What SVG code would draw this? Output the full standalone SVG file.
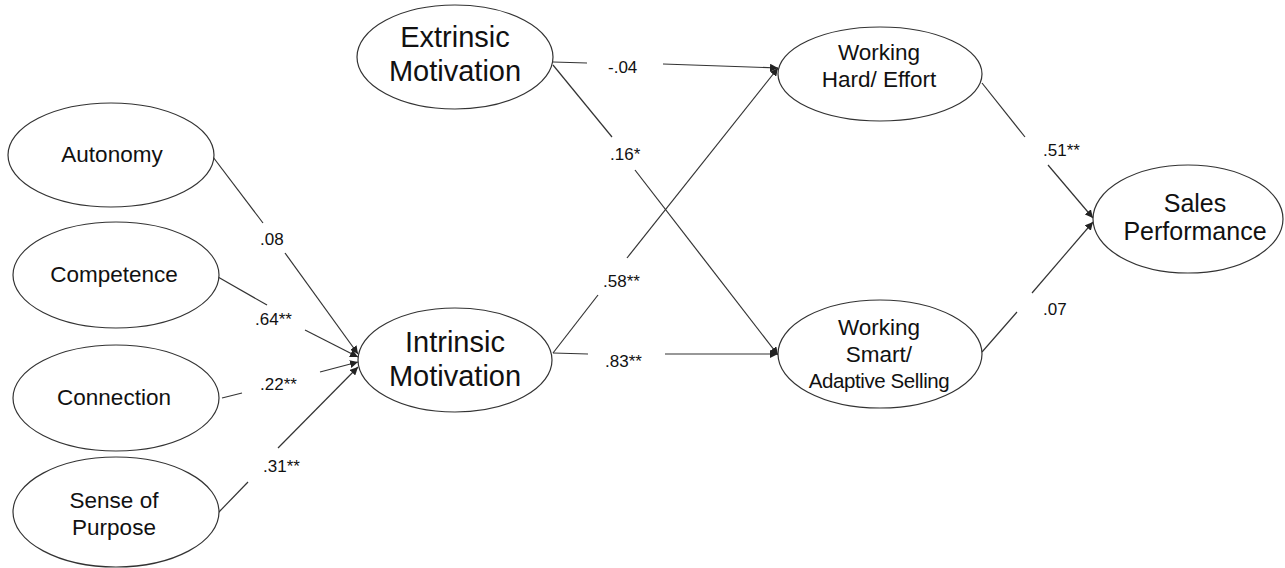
<svg xmlns="http://www.w3.org/2000/svg" width="1285" height="568" viewBox="0 0 1285 568">
<style>
.n{fill:#fff;stroke:#333;stroke-width:1.2}
.t{font-family:"Liberation Sans",Arial,sans-serif;font-size:22.5px;fill:#111;text-anchor:middle}
.tb{font-family:"Liberation Sans",Arial,sans-serif;font-size:29px;fill:#111;text-anchor:middle}
.l{font-family:"Liberation Sans",Arial,sans-serif;font-size:17px;fill:#111}
.c{stroke:#333;stroke-width:1.2;fill:none}
.a{marker-end:url(#ah)}
</style>
<defs>
<marker id="ah" viewBox="0 0 10 10" refX="10" refY="5" markerWidth="8" markerHeight="8" markerUnits="userSpaceOnUse" orient="auto">
<path d="M0,0 L10,5 L0,10 z" fill="#222"/>
</marker>
</defs>
<rect width="1285" height="568" fill="#fff"/>
<g id="connectors">
<line class="c" x1="213" y1="157" x2="263" y2="223"/>
<line class="c a" x1="285" y1="253" x2="358" y2="354"/>
<line class="c" x1="218" y1="277" x2="267" y2="305"/>
<line class="c a" x1="305" y1="330" x2="358" y2="357"/>
<line class="c" x1="222" y1="398" x2="242" y2="393"/>
<line class="c a" x1="320" y1="372" x2="358" y2="362"/>
<line class="c" x1="218" y1="513" x2="248" y2="482"/>
<line class="c a" x1="278" y1="448" x2="358" y2="367"/>
<line class="c" x1="553" y1="62" x2="587" y2="63"/>
<line class="c a" x1="663" y1="64" x2="778" y2="68"/>
<line class="c" x1="553" y1="65" x2="612" y2="137"/>
<line class="c a" x1="635" y1="170" x2="778" y2="355"/>
<line class="c" x1="553" y1="353" x2="598" y2="295"/>
<line class="c a" x1="627" y1="258" x2="778" y2="68"/>
<line class="c" x1="553" y1="353" x2="588" y2="354"/>
<line class="c a" x1="665" y1="354" x2="778" y2="354"/>
<line class="c" x1="982" y1="83" x2="1025" y2="137"/>
<line class="c a" x1="1048" y1="165" x2="1093" y2="218"/>
<line class="c" x1="982" y1="352" x2="1017" y2="312"/>
<line class="c a" x1="1032" y1="293" x2="1093" y2="222"/>
<text class="l" x="260" y="245">.08</text>
<text class="l" x="255" y="325">.64**</text>
<text class="l" x="260" y="390">.22**</text>
<text class="l" x="263" y="472">.31**</text>
<text class="l" x="608" y="73">-.04</text>
<text class="l" x="610" y="160">.16*</text>
<text class="l" x="603" y="287">.58**</text>
<text class="l" x="605" y="367">.83**</text>
<text class="l" x="1043" y="156">.51**</text>
<text class="l" x="1043" y="315">.07</text>
</g>
<g id="autonomy"><ellipse class="n" cx="111" cy="155" rx="103" ry="52"/><text class="t" x="112" y="162">Autonomy</text></g>
<g id="competence"><ellipse class="n" cx="116" cy="275" rx="103" ry="53"/><text class="t" x="114" y="282">Competence</text></g>
<g id="connection"><ellipse class="n" cx="116" cy="398" rx="103" ry="53"/><text class="t" x="114" y="405">Connection</text></g>
<g id="purpose"><ellipse class="n" cx="116" cy="512" rx="103" ry="55"/><text class="t" x="114" y="508">Sense of</text><text class="t" x="114" y="535">Purpose</text></g>
<g id="extrinsic"><ellipse class="n" cx="455" cy="57" rx="98" ry="52"/><text class="tb" x="455" y="47">Extrinsic</text><text class="tb" x="455" y="81">Motivation</text></g>
<g id="intrinsic"><ellipse class="n" cx="455" cy="360" rx="97" ry="52"/><text class="tb" x="455" y="352">Intrinsic</text><text class="tb" x="455" y="386">Motivation</text></g>
<g id="hard"><ellipse class="n" cx="880" cy="74" rx="102" ry="47"/><text class="t" x="879" y="60">Working</text><text class="t" x="879" y="87">Hard/ Effort</text></g>
<g id="smart"><ellipse class="n" cx="880" cy="354" rx="102" ry="54"/><text class="t" x="879" y="335">Working</text><text class="t" x="879" y="362">Smart/</text><text class="t" x="879" y="388" style="font-size:20.5px;letter-spacing:-0.4px">Adaptive Selling</text></g>
<g id="sales"><ellipse class="n" cx="1188" cy="219" rx="95" ry="54"/><text class="t" x="1195" y="212" style="font-size:25px">Sales</text><text class="t" x="1195" y="240" style="font-size:25px">Performance</text></g>
</svg>
